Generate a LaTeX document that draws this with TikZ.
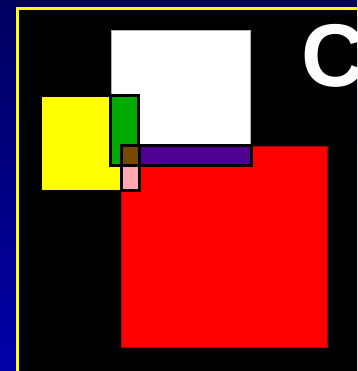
\documentclass[tikz,border=0pt]{standalone}
\usepackage{fontspec}
\setmainfont{Liberation Sans}
\usepackage{xcolor}
\usepackage{tikz}
\usetikzlibrary{calc}

\definecolor{navytop}{RGB}{0,0,96}
\definecolor{navybot}{RGB}{0,0,168}
\definecolor{boxyellow}{RGB}{255,255,0}
\definecolor{boxgreen}{RGB}{0,170,0}
\definecolor{boxpurple}{RGB}{80,0,144}
\definecolor{boxbrown}{RGB}{120,72,0}
\definecolor{boxpink}{RGB}{255,168,176}

\begin{document}
\begin{tikzpicture}[
    x=1pt, y=-1pt,
    framed/.style={draw=black, line width=3pt},
    letter/.style={anchor=base west, inner sep=0pt, text=white, font=\fontsize{89}{89}\selectfont\bfseries}
]
\useasboundingbox (0,0) rectangle (357,371);
% slide background
\shade[top color=navytop, bottom color=navybot] (0,0) rectangle (357,371);
\fill[boxyellow] (16,7) rectangle (357,371);
\fill[black] (19,10) rectangle (357,371);

% rectangles
\fill[red, draw=red!70!black, line width=0.6pt] (121,146) rectangle (327,347);
\fill[white, draw=gray!60, line width=0.6pt] (111,30) rectangle (250,145);
\fill[boxyellow] (42,97) rectangle (120,190);
\filldraw[fill=boxgreen, framed] (110,96) rectangle (138,166);
\filldraw[fill=boxpurple, framed] (121,146) rectangle (251,166);
\filldraw[fill=boxbrown, framed] (121,146) rectangle (139,166);
\filldraw[fill=boxpink, framed] (121,166) rectangle (139,190);

\node[letter] (title) at (301,87) {C};
\end{tikzpicture}
\end{document}
